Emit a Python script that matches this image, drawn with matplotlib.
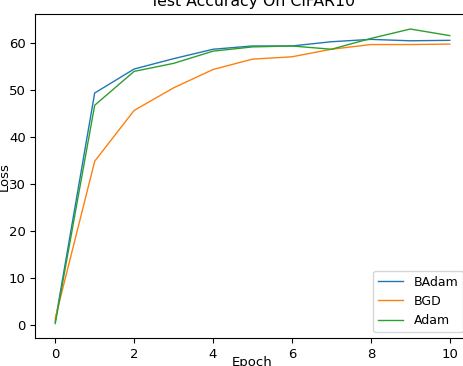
import matplotlib

matplotlib.use("Agg")
import matplotlib.pyplot as plt

# values
epochs = [0, 1, 2, 3, 4, 5, 6, 7, 8, 9, 10]
badam = [0.8, 49.4, 54.5, 56.7, 58.7, 59.4, 59.4, 60.3, 60.8, 60.5, 60.6]
bgd = [1.5, 34.9, 45.7, 50.5, 54.4, 56.6, 57.1, 58.7, 59.7, 59.7, 59.8]
adam = [0.4, 46.8, 54.0, 55.7, 58.3, 59.2, 59.4, 58.7, 61.0, 63.0, 61.6]

W, H = 464, 366
fig = plt.figure(figsize=(W / 100, H / 100), dpi=100)
# right spine and title fall partly outside the canvas, as in the reference
ax = fig.add_axes([35.5 / W, (H - 338.3) / H, 434 / W, (338.3 - 14.3) / H])

ax.plot(epochs, badam, lw=1, label="BAdam")
ax.plot(epochs, bgd, lw=1, label="BGD")
ax.plot(epochs, adam, lw=1, label="Adam")

ax.set_xticks([0, 2, 4, 6, 8, 10])
ax.tick_params(labelsize=9.5)
ax.set_xlabel("Epoch", fontsize=9.5)
ax.xaxis.set_label_coords(0.5, -0.054)
ax.set_ylabel("Loss", fontsize=9.5)
ax.yaxis.set_label_coords(-0.058, 0.5)
ax.set_title("Test Accuracy On CIFAR10", fontsize=11.3)
ax.legend(loc="lower right", fontsize=9)

fig.savefig("out.png", dpi=100)
